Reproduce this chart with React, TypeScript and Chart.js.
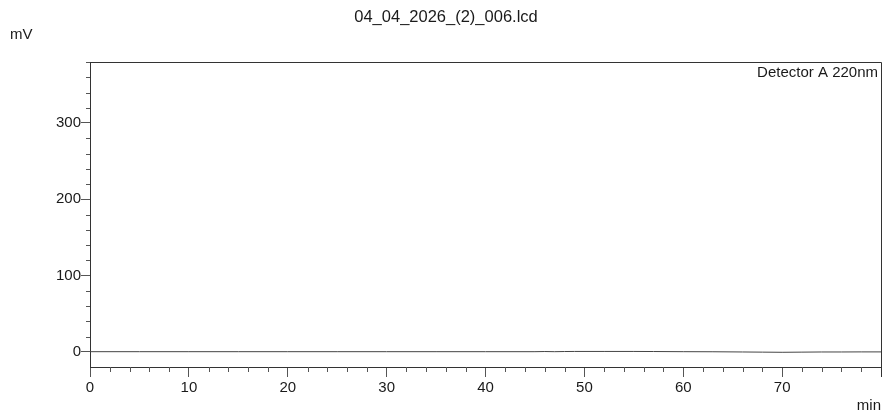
import { useEffect, useRef } from "react";
import { Chart, registerables } from "chart.js";

Chart.register(...registerables);

const titleText = "04_04_2026_(2)_006.lcd";
const yUnit = "mV";
const xUnit = "min";
const detectorLabel = "Detector A 220nm";

const times = [0, 5, 10, 15, 20, 25, 30, 35, 40, 45, 46, 47, 48, 49, 52, 55, 57, 60, 63, 66, 68, 70, 72, 74, 76, 78, 80];
const signal = [0.1, 0.1, 0.1, 0.1, 0.1, 0.1, 0.1, 0.1, 0.1, 0.1, 0.3, 0.1, 0.3, 0.4, 0.4, 0.4, 0.3, 0.1, 0.0, -0.3, -0.5, -0.7, -0.5, -0.3, -0.3, -0.2, -0.2];

const xTickValues = [0, 10, 20, 30, 40, 50, 60, 70, 80];
const yTickValues = [0, 100, 200, 300];

const xMin = 0;
const xMax = 80;
const yMin = -20;
const yMax = 380;
const xMajorStep = 10;
const xMinorStep = 2;
const yMajorStep = 100;
const yMinorStep = 20;

const FONT = "'Liberation Sans', Arial, sans-serif";
const TEXT = "#1a1a1a";

const decorPlugin = {
  id: "decor",
  afterDraw(chart: any) {
    const ctx = chart.ctx as CanvasRenderingContext2D;
    const a = chart.chartArea;
    const xs = chart.scales.x;
    const ys = chart.scales.y;
    ctx.save();
    ctx.strokeStyle = "#333";
    ctx.lineWidth = 1;
    ctx.beginPath();
    ctx.moveTo(Math.round(a.left) + 0.5, Math.round(a.top) + 0.5);
    ctx.lineTo(Math.round(a.right) + 0.5, Math.round(a.top) + 0.5);
    ctx.lineTo(Math.round(a.right) + 0.5, Math.round(a.bottom) + 10);
    ctx.stroke();
    ctx.strokeStyle = "#555";
    ctx.beginPath();
    for (let v = xMin; v <= xMax; v += xMinorStep) {
      if (v % xMajorStep === 0) continue;
      const px = Math.round(xs.getPixelForValue(v)) + 0.5;
      ctx.moveTo(px, a.bottom);
      ctx.lineTo(px, a.bottom + 5);
    }
    for (let v = 0; v <= yMax; v += yMinorStep) {
      if (v % yMajorStep === 0) continue;
      const py = Math.round(ys.getPixelForValue(v)) + 0.5;
      ctx.moveTo(a.left - 4, py);
      ctx.lineTo(a.left, py);
    }
    ctx.stroke();
    ctx.fillStyle = TEXT;
    ctx.textBaseline = "alphabetic";
    ctx.font = `16.5px ${FONT}`;
    ctx.textAlign = "center";
    ctx.fillText(titleText, 446, 22);
    ctx.font = `15px ${FONT}`;
    ctx.textAlign = "left";
    ctx.fillText(yUnit, 10, 39);
    ctx.textAlign = "right";
    ctx.fillText(detectorLabel, a.right - 3, 77);
    ctx.fillText(xUnit, a.right, 410);
    ctx.restore();
  },
};

export default function App() {
  const ref = useRef<HTMLCanvasElement | null>(null);
  useEffect(() => {
    if (!ref.current) return;
    const chart = new Chart(ref.current, {
      type: "line",
      data: {
        datasets: [
          {
            data: times.map((t, i) => ({ x: t, y: signal[i] })),
            borderColor: "#444",
            borderWidth: 1,
            pointRadius: 0,
            tension: 0,
            fill: false,
          },
        ],
      },
      options: {
        animation: false,
        responsive: false,
        maintainAspectRatio: false,
        layout: { padding: { left: 0, top: 62, right: 5, bottom: 0 } },
        plugins: { legend: { display: false }, tooltip: { enabled: false }, title: { display: false } },
        scales: {
          x: {
            type: "linear",
            min: xMin,
            max: xMax,
            afterBuildTicks: (s: any) => {
              s.ticks = xTickValues.map((v) => ({ value: v }));
            },
            afterFit: (s: any) => {
              s.height = 49;
            },
            border: { display: true, color: "#333", width: 1 },
            grid: { drawOnChartArea: false, drawTicks: true, tickLength: 10, color: "#555" },
            ticks: {
              autoSkip: false,
              maxRotation: 0,
              padding: 2,
              color: TEXT,
              font: { family: FONT, size: 15 },
              callback: (v: any) => (v === xMax ? "" : String(v)),
            },
          },
          y: {
            type: "linear",
            min: yMin,
            max: yMax,
            afterBuildTicks: (s: any) => {
              s.ticks = yTickValues.map((v) => ({ value: v }));
            },
            afterFit: (s: any) => {
              s.width = 90;
            },
            border: { display: true, color: "#333", width: 1 },
            grid: { drawOnChartArea: false, drawTicks: true, tickLength: 9, color: "#555" },
            ticks: {
              autoSkip: false,
              padding: 0,
              color: TEXT,
              font: { family: FONT, size: 15 },
              callback: (v: any) => String(v),
            },
          },
        },
      },
      plugins: [decorPlugin],
    });
    return () => chart.destroy();
  }, []);
  return (
    <div style={{ position: "absolute", left: 0, top: 0, width: 886, height: 416, background: "#fff" }}>
      <canvas ref={ref} width={886} height={416} style={{ display: "block" }} />
    </div>
  );
}
